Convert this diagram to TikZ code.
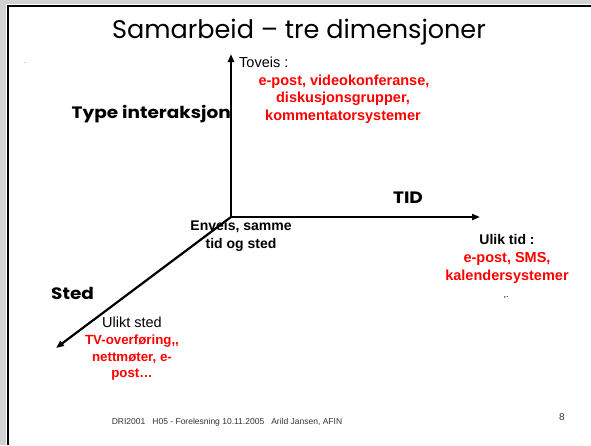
\documentclass[tikz,border=0pt]{standalone}
\usepackage{fontspec}
\setmainfont{Liberation Sans}
\newfontfamily\comic{Poppins}
\newfontfamily\comicw[FakeStretch=1.12]{Poppins}
\usetikzlibrary{arrows.meta}
\definecolor{slidered}{RGB}{255,0,0}
\begin{document}
\begin{tikzpicture}[x=1pt,y=-1pt,
  axis/.style={line width=2.2pt,-{Triangle[length=8pt,width=6pt]}},
  lbl/.style={inner sep=0pt,anchor=base,align=center},
  redtxt/.style={lbl,text=slidered,font=\fontsize{14.5}{17.5}\selectfont\bfseries},
  redsmall/.style={lbl,text=slidered,font=\fontsize{13.3}{16}\selectfont\bfseries},
  comicbold/.style={lbl,font=\comicw\fontsize{16.5}{19}\selectfont\bfseries}]
\useasboundingbox (0,0) rectangle (591,445);
\fill[gray!35] (0,0) rectangle (591,4);
\fill[gray!35] (0,0) rectangle (6,445);
\draw[line width=2.5pt] (8,445) -- (8,6) -- (591,6);
% title
\node[lbl,font=\comic\fontsize{25.5}{30}\selectfont] (title) at (299,38) {Samarbeid – tre dimensjoner};
\node[lbl,font=\fontsize{6}{7}\selectfont,text=gray] (dash) at (25,64) {-};
% axes
\coordinate (O) at (231,217);
\coordinate (up) at (231,54);
\coordinate (rt) at (480,217);
\coordinate (dl) at (56,348);
\draw[axis] (O) -- (up);
\draw[axis] (O) -- (rt);
\draw[axis] (O) -- (dl);
% labels
\node[lbl,anchor=base west,font=\fontsize{14.5}{17.5}\selectfont] (toveis) at (239,67) {Toveis :};
\node[redtxt,anchor=base] (tovr1) at (344,85) {e-post, videokonferanse,};
\node[redtxt,anchor=base] (tovr2) at (343,102.5) {diskusjonsgrupper,};
\node[redtxt,anchor=base] (tovr3) at (343,120) {kommentatorsystemer};
\node[comicbold,anchor=base east] (type) at (231,118) {Type interaksjon};
\node[comicbold] (tid) at (408,203) {TID};
\node[lbl,font=\fontsize{14}{17.5}\selectfont\bfseries] (env1) at (241,230) {Enveis, samme};
\node[lbl,font=\fontsize{14}{17.5}\selectfont\bfseries] (env2) at (241,248) {tid og sted};
\node[lbl,font=\fontsize{14}{17.5}\selectfont\bfseries] (ulik) at (507,244) {Ulik tid :};
\node[redtxt] (ulik1) at (507,262) {e-post, SMS,};
\node[redtxt] (ulik2) at (507,280) {kalendersystemer};
\node[lbl,font=\fontsize{9}{10}\selectfont] (dots) at (506,297) {,.};
\node[comicbold,anchor=base west] (sted) at (51,299) {Sted};
\node[lbl,font=\fontsize{14.5}{17.5}\selectfont] (ulikt) at (132,327) {Ulikt sted};
\node[redsmall] (st1) at (132,344) {TV-overføring,{},};
\node[redsmall] (st2) at (132,361) {nettmøter, e-};
\node[redsmall] (st3) at (132,377) {post…};
% footer
\node[lbl,font=\fontsize{8.5}{10}\selectfont,text=black!80] (foot) at (227,424) {DRI2001\ \ \ H05 - Forelesning 10.11.2005\ \ \ Arild Jansen, AFIN};
\node[lbl,font=\fontsize{10}{12}\selectfont,text=black!80] (num) at (562,420) {8};
\end{tikzpicture}
\end{document}
